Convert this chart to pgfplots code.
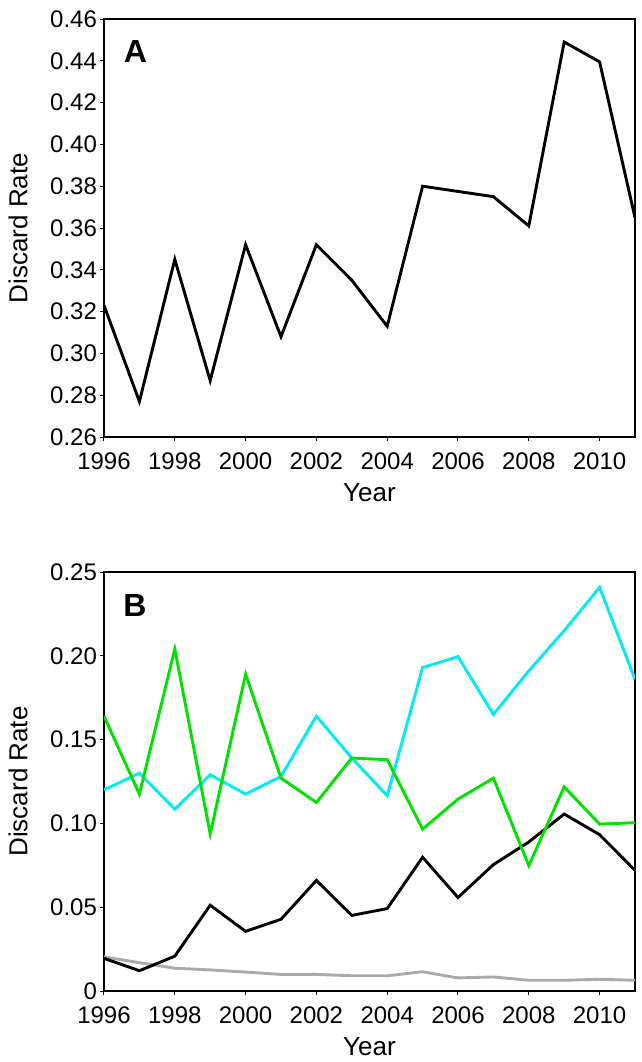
\documentclass[border=0pt]{standalone}
\usepackage{fontspec}
\setmainfont{Liberation Sans}
\usepackage{pgfplots}
\usepackage{pgfplotstable}
\pgfplotsset{compat=1.18}
\definecolor{bcyan}{RGB}{0,235,245}
\definecolor{bgreen}{RGB}{0,225,0}
\definecolor{bgray}{RGB}{170,170,170}

\pgfplotstableread{
year rate
1996 0.323
1997 0.277
1998 0.345
1999 0.287
2000 0.352
2001 0.308
2002 0.352
2003 0.335
2004 0.313
2005 0.380
2006 0.3775
2007 0.375
2008 0.361
2009 0.449
2010 0.4395
2011 0.365
}\dataA

\pgfplotstableread{
year cyan green black gray
1996 0.120 0.164 0.0195 0.0204
1997 0.130 0.1175 0.0121 0.0169
1998 0.1085 0.204 0.0208 0.0136
1999 0.129 0.0937 0.0512 0.0126
2000 0.1175 0.189 0.0356 0.0113
2001 0.128 0.127 0.0428 0.0099
2002 0.164 0.1125 0.066 0.0099
2003 0.139 0.139 0.0451 0.0091
2004 0.1165 0.138 0.0492 0.0091
2005 0.193 0.0966 0.0798 0.0115
2006 0.1995 0.1145 0.0558 0.0078
2007 0.165 0.127 0.0754 0.0084
2008 0.191 0.0748 0.0889 0.0064
2009 0.215 0.1218 0.1056 0.0064
2010 0.2408 0.0996 0.0933 0.0070
2011 0.186 0.1004 0.072 0.0064
}\dataB

\pgfplotsset{
  common/.style={
    scale only axis,
    width=265.5pt,
    xmin=1996, xmax=2011,
    xtick={1996,1998,2000,2002,2004,2006,2008,2010},
    xticklabels={1996,1998,2000,2002,2004,2006,2008,2010},
    tick align=outside,
    xtick pos=left, ytick pos=left,
    major tick length=2pt,
    every tick/.style={black, line width=0.5pt},
    axis line style={line width=0.75pt},
    tick label style={font=\fontsize{12}{14}\selectfont},
    xticklabel style={yshift=-2.5pt},
    yticklabel style={xshift=2pt},
    label style={font=\fontsize{13}{15}\selectfont},
    xlabel={Year},
    ylabel={Discard Rate},
    ylabel style={at={(axis description cs:-0.162,0.5)}, anchor=center},
    every axis plot/.append style={line width=1.45pt},
  }
}

\begin{document}
\begin{tikzpicture}
\begin{axis}[common,
  name=A,
  at={(0pt,0pt)}, anchor=north west,
  height=209pt,
  ymin=0.26, ymax=0.46,
  ytick={0.26,0.28,0.30,0.32,0.34,0.36,0.38,0.40,0.42,0.44,0.46},
  yticklabels={0.26,0.28,0.30,0.32,0.34,0.36,0.38,0.40,0.42,0.44,0.46},
  xlabel style={at={(axis description cs:0.5,-0.134)}, anchor=center},
]
\addplot[black] table[x=year,y=rate]{\dataA};
\end{axis}
\node[font=\fontsize{16}{18}\selectfont\bfseries] at ([xshift=15.75pt,yshift=-16.25pt]A.north west) {A};

\begin{axis}[common,
  name=B,
  at={(0pt,-276.5pt)}, anchor=north west,
  height=209.5pt,
  ymin=0, ymax=0.25,
  ytick={0,0.05,0.10,0.15,0.20,0.25},
  yticklabels={0,0.05,0.10,0.15,0.20,0.25},
  xlabel style={at={(axis description cs:0.5,-0.134)}, anchor=center},
]
\addplot[bgray] table[x=year,y=gray]{\dataB};
\addplot[black] table[x=year,y=black]{\dataB};
\addplot[bcyan] table[x=year,y=cyan]{\dataB};
\addplot[bgreen] table[x=year,y=green]{\dataB};
\end{axis}
\node[font=\fontsize{16}{18}\selectfont\bfseries] at ([xshift=15.5pt,yshift=-16.5pt]B.north west) {B};

\pgfresetboundingbox
\useasboundingbox (-52pt,9.5pt) rectangle (269pt,-521.5pt);
\end{tikzpicture}
\end{document}
